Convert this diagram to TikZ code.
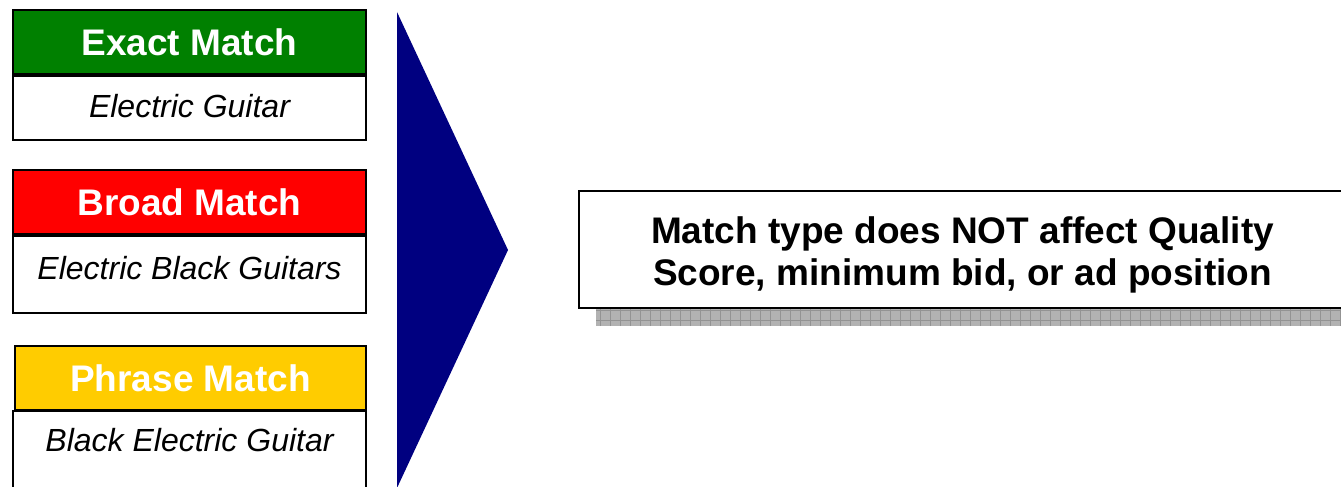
\documentclass[tikz,border=0pt]{standalone}
\usepackage{fontspec}
\setmainfont{Liberation Sans}
\usetikzlibrary{positioning}

\definecolor{exactgreen}{RGB}{0,128,0}
\definecolor{broadred}{RGB}{255,0,0}
\definecolor{phrasegold}{RGB}{255,204,0}
\definecolor{arrownavy}{RGB}{0,0,128}

\tikzset{
	header/.style={draw,line width=2pt,inner sep=0pt,minimum width=353pt,minimum height=64pt,text=white,font=\fontsize{37}{43}\selectfont\bfseries},
	sample/.style={draw,line width=2pt,inner sep=0pt,minimum width=353pt,font=\fontsize{32}{38}\selectfont\itshape},
	notebox/.style={draw,line width=2pt,fill=white,inner sep=0pt,minimum width=767pt,minimum height=117pt},
	notetext/.style={inner sep=0pt,align=center,font=\fontsize{37}{42}\selectfont\bfseries}
}

\begin{document}
\begin{tikzpicture}[x=1pt,y=-1pt]
	\useasboundingbox (0,0) rectangle (1341,487);
	% match types
	\node [header,fill=exactgreen] (exact) at (189.5,42) {Exact Match};
	\node [sample,minimum height=64pt,text depth=4pt,below=0pt of exact] (exactkw) {Electric Guitar};
	\node [header,fill=broadred] (broad) at (189.5,202) {Broad Match};
	\node [sample,minimum height=77pt,text depth=14pt,below=0pt of broad] (broadkw) {Electric Black Guitars};
	\node [header,fill=phrasegold,minimum width=351pt] (phrase) at (190.5,378) {Phrase Match};
	\node [sample,minimum height=100pt,text depth=42pt,anchor=north] (phrasekw) at (189.5,410) {Black Electric Guitar};
	% arrow
	\fill [arrownavy] (397,12) -- (508,250) -- (397,488) -- cycle;
	% note with shadow
	\fill [gray!60] (596,207) rectangle (1350,326);
	\draw [gray!85,step=10pt] (596,308) grid (1350,326);
	\node [notebox] (note) at (962.5,249.5) {};
	\node [notetext] (notetxt) at ([yshift=-5pt]note.center) {Match type does NOT affect Quality\\Score, minimum bid, or ad position};
\end{tikzpicture}
\end{document}
